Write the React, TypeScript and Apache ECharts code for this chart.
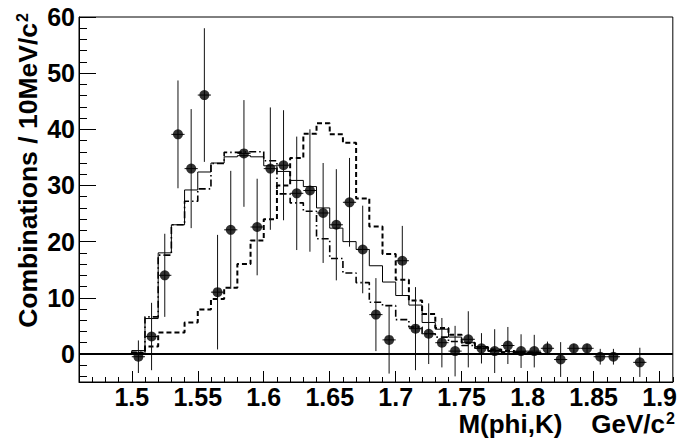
import React, { useEffect, useRef } from "react";
import * as echarts from "echarts";

// Histogram bins (lower edges, 10 MeV wide)
const binLowEdges = [
  1.50, 1.51, 1.52, 1.53, 1.54, 1.55, 1.56, 1.57, 1.58, 1.59,
  1.60, 1.61, 1.62, 1.63, 1.64, 1.65, 1.66, 1.67, 1.68, 1.69,
  1.70, 1.71, 1.72, 1.73, 1.74, 1.75, 1.76, 1.77, 1.78, 1.79, 1.80,
];
const binWidth = 0.01;

const histSolid = [
  0.6, 6.3, 18.0, 23.0, 29.2, 32.4, 34.0, 35.1, 35.3, 35.1,
  33.5, 32.5, 30.9, 29.8, 26.0, 22.4, 20.0, 18.6, 15.7, 12.8,
  10.4, 8.7, 5.6, 4.4, 3.0, 2.0, 1.3, 0.6, 0.4, 0.3, 0.2,
];
const histDashed = [
  0.2, 1.3, 3.8, 3.8, 5.6, 7.9, 9.8, 11.8, 16.0, 20.2,
  24.0, 30.0, 34.9, 39.2, 41.1, 39.1, 37.6, 27.7, 22.7, 17.8,
  13.2, 9.5, 7.1, 4.6, 3.4, 2.0, 1.2, 0.8, 0.5, 0.3, 0.2,
];
const histDashDot = [
  0.3, 6.6, 17.6, 23.0, 27.2, 29.4, 33.9, 35.9, 36.0, 36.0,
  34.4, 28.5, 26.9, 25.4, 20.5, 17.0, 14.4, 12.7, 9.2, 8.6,
  6.1, 4.8, 3.6, 3.0, 2.2, 1.5, 1.0, 0.5, 0.3, 0.2, 0.1,
];

// Data points
const pointMass = [
  1.505, 1.515, 1.525, 1.535, 1.545, 1.555, 1.565, 1.575, 1.585, 1.595,
  1.605, 1.615, 1.625, 1.635, 1.645, 1.655, 1.665, 1.675, 1.685, 1.695,
  1.705, 1.715, 1.725, 1.735, 1.745, 1.755, 1.765, 1.775, 1.785, 1.795,
  1.805, 1.815, 1.825, 1.835, 1.845, 1.855, 1.865, 1.885,
];
const pointCounts = [
  -0.5, 3.1, 14.0, 39.1, 33.0, 46.1, 11.0, 22.1, 35.7, 22.6,
  33.0, 33.6, 28.6, 29.1, 25.1, 23.0, 27.0, 18.6, 7.0, 2.5,
  16.6, 4.5, 3.6, 2.0, 0.5, 2.6, 1.0, 0.5, 1.5, 0.5,
  0.5, 1.0, -1.0, 1.0, 1.0, -0.5, -0.5, -1.5,
];
const pointErrors = [
  2.9, 6.0, 7.4, 9.6, 10.6, 11.9, 10.2, 10.5, 9.5, 8.6,
  10.9, 9.8, 10.1, 10.9, 8.9, 9.9, 7.9, 7.8, 6.5, 6.0,
  6.2, 7.4, 5.4, 4.4, 4.5, 5.0, 2.7, 3.9, 3.3, 3.0,
  2.9, 1.2, 3.1, 0.8, 0.8, 1.4, 1.4, 2.6,
];

const xTickLabels = [1.5, 1.55, 1.6, 1.65, 1.7, 1.75, 1.8, 1.85, 1.9];
const yTickLabels = [0, 10, 20, 30, 40, 50, 60];

const yTitle = "Combinations / 10MeV/c";
const xTitle = "M(phi,K)\u00A0\u00A0\u00A0\u00A0GeV/c";
const superscript = "2";

const X_MIN = 1.46;
const X_MAX = 1.91;
const Y_MIN = -5;
const Y_MAX = 60;

const FONT = '"Liberation Sans", Arial, Helvetica, sans-serif';

function stepData(values: number[]) {
  const d: number[][] = [[binLowEdges[0], 0]];
  binLowEdges.forEach((x, i) => d.push([x, values[i]]));
  const last = binLowEdges[binLowEdges.length - 1] + binWidth;
  d.push([+last.toFixed(3), 0]);
  return d;
}

function minorTicks(min: number, max: number, step: number, majors: number[], scale: number) {
  const out: number[] = [];
  const n = Math.round((max - min) / step);
  for (let i = 0; i <= n; i++) {
    const v = Math.round((min + i * step) * scale) / scale;
    if (!majors.some((m) => Math.abs(m - v) < 1e-9)) out.push(v);
  }
  return out;
}

export default function App() {
  const ref = useRef<HTMLDivElement>(null);

  useEffect(() => {
    if (!ref.current) return;
    const chart = echarts.init(ref.current, undefined, { renderer: "svg" });

    const xMinor = minorTicks(X_MIN, X_MAX, 0.01, xTickLabels, 1000);
    const yMinor = minorTicks(-4, 60, 2, yTickLabels, 1);

    const errData = pointMass.map((m, i) => [m, pointCounts[i], pointErrors[i]]);
    const ptData = pointMass.map((m, i) => [m, pointCounts[i]]);

    const labelStyle = {
      fontFamily: FONT,
      fontWeight: "bold" as const,
      fontSize: 25,
      lineHeight: 20,
      color: "#000",
    };

    const titleFont = (size: number) => `bold ${size}px ${FONT}`;

    chart.setOption({
      animation: false,
      backgroundColor: "#fff",
      grid: {
        left: 79,
        right: 7,
        top: 17,
        bottom: 56,
        show: true,
        borderColor: "#000",
        borderWidth: 1,
        backgroundColor: "transparent",
      },
      xAxis: [
        {
          type: "value",
          min: X_MIN,
          max: X_MAX,
          position: "bottom",
          axisLine: { show: true, onZero: false, lineStyle: { color: "#000", width: 1 } },
          axisTick: {
            show: true,
            inside: true,
            length: 11,
            customValues: xTickLabels,
            lineStyle: { color: "#000", width: 1 },
          },
          axisLabel: {
            ...labelStyle,
            margin: 5,
            customValues: xTickLabels,
            formatter: (v: number) => String(v),
          },
          splitLine: { show: false },
        },
        {
          type: "value",
          min: X_MIN,
          max: X_MAX,
          position: "bottom",
          axisLine: { show: false, onZero: false },
          axisTick: {
            show: true,
            inside: true,
            length: 5,
            customValues: xMinor,
            lineStyle: { color: "#000", width: 1 },
          },
          axisLabel: { show: false },
          splitLine: { show: false },
        },
      ],
      yAxis: [
        {
          type: "value",
          min: Y_MIN,
          max: Y_MAX,
          position: "left",
          axisLine: { show: true, onZero: false, lineStyle: { color: "#000", width: 1 } },
          axisTick: {
            show: true,
            inside: true,
            length: 17,
            customValues: yTickLabels,
            lineStyle: { color: "#000", width: 1 },
          },
          axisLabel: {
            ...labelStyle,
            margin: 4,
            customValues: yTickLabels,
          },
          splitLine: { show: false },
        },
        {
          type: "value",
          min: Y_MIN,
          max: Y_MAX,
          position: "left",
          axisLine: { show: false, onZero: false },
          axisTick: {
            show: true,
            inside: true,
            length: 8,
            customValues: yMinor,
            lineStyle: { color: "#000", width: 1 },
          },
          axisLabel: { show: false },
          splitLine: { show: false },
        },
      ],
      graphic: [
        {
          type: "text",
          x: 28,
          y: 23,
          rotation: Math.PI / 2,
          style: {
            text: yTitle,
            font: titleFont(26.5),
            align: "right",
            verticalAlign: "middle",
            fill: "#000",
          },
        },
        {
          type: "text",
          x: 22,
          y: 13,
          rotation: Math.PI / 2,
          style: {
            text: superscript,
            font: titleFont(16),
            align: "right",
            verticalAlign: "middle",
            fill: "#000",
          },
        },
        {
          type: "text",
          x: 665,
          y: 424,
          style: {
            text: xTitle,
            font: titleFont(26),
            align: "right",
            verticalAlign: "middle",
            fill: "#000",
          },
        },
        {
          type: "text",
          x: 666,
          y: 418,
          style: {
            text: superscript,
            font: titleFont(16),
            align: "left",
            verticalAlign: "middle",
            fill: "#000",
          },
        },
      ],
      series: [
        {
          type: "line",
          name: "dashed",
          step: "end",
          showSymbol: false,
          data: stepData(histDashed),
          lineStyle: { color: "#000", width: 2, type: [5, 3] },
          z: 2,
        },
        {
          type: "line",
          name: "dashdot",
          step: "end",
          showSymbol: false,
          data: stepData(histDashDot),
          lineStyle: { color: "#000", width: 1.6, type: [7, 3, 1.5, 3] },
          z: 2,
        },
        {
          type: "line",
          name: "solid",
          step: "end",
          showSymbol: false,
          data: stepData(histSolid),
          lineStyle: { color: "#000", width: 1 },
          z: 3,
          markLine: {
            silent: true,
            symbol: ["none", "none"],
            label: { show: false },
            lineStyle: { color: "#000", width: 2, type: "solid" },
            data: [{ yAxis: 0 }],
          },
        },
        {
          type: "custom",
          name: "errors",
          data: errData,
          encode: { x: 0, y: 1 },
          z: 4,
          renderItem: (params: any, api: any) => {
            const x = api.value(0);
            const y = api.value(1);
            const e = api.value(2);
            const top = api.coord([x, y + e]);
            const bot = api.coord([x, y - e]);
            const l = api.coord([x - binWidth / 2, y]);
            const r = api.coord([x + binWidth / 2, y]);
            return {
              type: "group",
              children: [
                {
                  type: "line",
                  shape: { x1: top[0], y1: top[1], x2: bot[0], y2: bot[1] },
                  style: { stroke: "#111", lineWidth: 1 },
                },
                {
                  type: "line",
                  shape: { x1: l[0], y1: l[1], x2: r[0], y2: r[1] },
                  style: { stroke: "#111", lineWidth: 1 },
                },
              ],
            };
          },
        },
        {
          type: "scatter",
          name: "points",
          data: ptData,
          symbol: "circle",
          symbolSize: 10,
          itemStyle: { color: "#000" },
          z: 5,
        },
      ],
    });

    return () => chart.dispose();
  }, []);

  return (
    <div
      ref={ref}
      style={{ position: "fixed", left: 0, top: 0, width: 680, height: 438, background: "#fff" }}
    />
  );
}
